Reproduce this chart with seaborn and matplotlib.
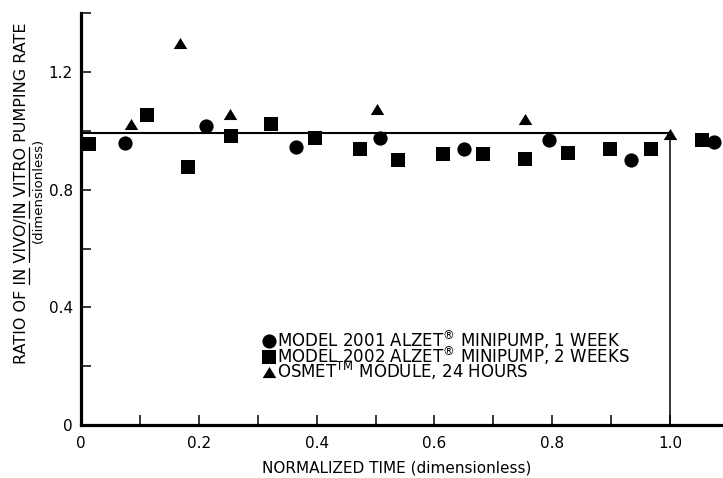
import matplotlib
matplotlib.use("Agg")
import matplotlib.pyplot as plt
from matplotlib.lines import Line2D
from matplotlib.path import Path
import pandas as pd
import seaborn as sns

# Normalized time and in vivo / in vitro pumping-rate ratio per device
alzet_2001_time = [0.075, 0.213, 0.365, 0.507, 0.650, 0.795, 0.933, 1.074]
alzet_2001_ratio = [0.960, 1.017, 0.947, 0.977, 0.938, 0.969, 0.901, 0.964]

alzet_2002_time = [0.014, 0.112, 0.182, 0.255, 0.322, 0.397, 0.473, 0.539,
                   0.614, 0.682, 0.754, 0.827, 0.898, 0.967, 1.054]
alzet_2002_ratio = [0.956, 1.054, 0.879, 0.983, 1.023, 0.977, 0.938, 0.901,
                    0.921, 0.922, 0.904, 0.926, 0.938, 0.938, 0.969]

osmet_time = [0.085, 0.168, 0.253, 0.503, 0.754, 1.000]
osmet_ratio = [1.024, 1.298, 1.057, 1.074, 1.040, 0.989]

series_labels = [
    r"MODEL 2001 ALZET$^{\mathrm{®}}$ MINIPUMP, 1 WEEK",
    r"MODEL 2002 ALZET$^{\mathrm{®}}$ MINIPUMP, 2 WEEKS",
    r"OSMET$^{\mathrm{TM}}$ MODULE, 24 HOURS",
]

reference_ratio = 0.993
end_time = 1.0

x_ticks = [0.0, 0.1, 0.2, 0.3, 0.4, 0.5, 0.6, 0.7, 0.8, 0.9, 1.0]
x_tick_labels = ["0", "", "0.2", "", "0.4", "", "0.6", "", "0.8", "", "1.0"]
y_ticks = [0.0, 0.2, 0.4, 0.6, 0.8, 1.0, 1.2, 1.4]
y_tick_labels = ["0", "", "0.4", "", "0.8", "", "1.2", ""]

df = pd.concat([
    pd.DataFrame({"time": alzet_2001_time, "ratio": alzet_2001_ratio, "device": "2001"}),
    pd.DataFrame({"time": alzet_2002_time, "ratio": alzet_2002_ratio, "device": "2002"}),
    pd.DataFrame({"time": osmet_time, "ratio": osmet_ratio, "device": "osmet"}),
], ignore_index=True)

sns.set_theme(style="white")
plt.rcParams["font.family"] = ["DejaVu Sans"]
plt.rcParams["mathtext.fontset"] = "dejavusans"

W, H = 723, 478
fig = plt.figure(figsize=(W / 100, H / 100), dpi=100)
fig.patch.set_facecolor("white")

# axes box in pixels: x from 81 to the right edge, y-axis 294 px per unit
ax_left, ax_bottom_px, px_per_unit_y = 81, 425, 294.0
ax = fig.add_axes([ax_left / W, (H - ax_bottom_px) / H,
                   (W - ax_left) / W, 1.4 * px_per_unit_y / H])
ax.set_facecolor("white")

# flattened triangle marker (wider than tall)
tri = Path([(0, 0.82), (-1, -0.82), (1, -0.82), (0, 0.82)],
           [Path.MOVETO, Path.LINETO, Path.LINETO, Path.CLOSEPOLY])

marker_styles = {"2001": ("o", 105), "2002": ("s", 100), "osmet": (tri, 95)}
for dev, (mk, size) in marker_styles.items():
    sub = df[df["device"] == dev]
    sns.scatterplot(data=sub, x="time", y="ratio", marker=mk, s=size,
                    color="black", edgecolor="black", linewidth=0,
                    ax=ax, zorder=4, clip_on=False, legend=False)

# reference ratio line and end-of-duration line
ax.plot([0, end_time], [reference_ratio, reference_ratio], color="black",
        lw=1.5, zorder=3)
ax.plot([end_time, end_time], [0, reference_ratio], color="black",
        lw=1.1, zorder=3)

ax.set_xlim(0, (W - ax_left) / 589.0)
ax.set_ylim(0, 1.4)
ax.set_xticks(x_ticks)
ax.set_xticklabels(x_tick_labels)
ax.set_yticks(y_ticks)
ax.set_yticklabels(y_tick_labels)

for side in ("top", "right"):
    ax.spines[side].set_visible(False)
for side in ("left", "bottom"):
    ax.spines[side].set_linewidth(2.3)
    ax.spines[side].set_color("black")

ax.tick_params(axis="x", bottom=True, direction="in", length=7.5, width=1.1,
               pad=8, labelsize=11, colors="black")
ax.tick_params(axis="y", left=True, direction="in", length=7.5, width=1.1,
               pad=6, labelsize=11, colors="black")

ax.set_xlabel("NORMALIZED TIME (dimensionless)", fontsize=11, color="black")
ax.xaxis.set_label_coords((397 - ax_left) / (W - ax_left),
                          -(468 - ax_bottom_px) / 413.0)
ax.xaxis.label.set_va("center")
ax.set_ylabel("")

# legend: one marker per row plus a single multi-line label block
legend_markers = ["o", "s", tri]
legend_sizes = [10.2, 10.0, 9.8]
legend_row_px = [341.0, 356.7, 372.3]
legend_marker_x = (268.5 - ax_left) / (W - ax_left)
for mk, ms, row in zip(legend_markers, legend_sizes, legend_row_px):
    ax.plot([legend_marker_x], [(ax_bottom_px - row) / 413.0], marker=mk,
            markersize=ms, color="black", markeredgewidth=0, linestyle="none",
            transform=ax.transAxes, clip_on=False)

legend_text = fig.text(277 / W, 0.5, "\n".join(series_labels), fontsize=12,
                       color="black", ha="left", va="top")

# rotated y-axis title with underlined words
pieces = [("RATIO OF ", False), ("IN", True), (" ", False), ("VIVO", True),
          ("/", False), ("IN", True), (" ", False), ("VITRO", True),
          (" PUMPING RATE", False)]
title_text = "".join(p for p, _ in pieces)
ylab = fig.text(22 / W, (H - 193) / H, title_text, rotation=90, ha="center",
                va="center", fontsize=11.5, color="black")
fig.text(38 / W, (H - 190) / H, "(dimensionless)", rotation=90, ha="center",
         va="center", fontsize=9.5, color="black")

fig.canvas.draw()
renderer = fig.canvas.get_renderer()

# legend line pitch: baseline step = previous descent + ascent * linespacing
lprop = legend_text.get_fontproperties()
_, lp_h, lp_d = renderer.get_text_width_height_descent("lp", lprop, ismath=False)
ascents, descents = [], []
for lab in series_labels:
    _, h, d = renderer.get_text_width_height_descent(lab, lprop, ismath=True)
    ascents.append(max(h, lp_h) - max(d, lp_d))
    descents.append(max(d, lp_d))
pitch = legend_row_px[1] - legend_row_px[0]
legend_text.set_linespacing((pitch - max(descents[0], descents[1]))
                            / max(ascents[1], ascents[2]))
cap_half = 0.729 * lprop.get_size_in_points() * 100 / 72 / 2
first_baseline_px = legend_row_px[0] + cap_half
legend_text.set_y((H - first_baseline_px + ascents[0]) / H)

# underline segments along the baseline of the rotated title
prop = ylab.get_fontproperties()
bb = ylab.get_window_extent(renderer)
_, _, t_d = renderer.get_text_width_height_descent("lp", prop, ismath=False)
ux = bb.x1 - t_d + 2.0
prefix = ""
for piece, underlined in pieces:
    prefix += piece
    if underlined:
        end_w = renderer.get_text_width_height_descent(prefix, prop, ismath=False)[0]
        word_w = renderer.get_text_width_height_descent(piece, prop, ismath=False)[0]
        y_start = bb.y0 + end_w - word_w
        y_end = bb.y0 + end_w
        fig.add_artist(Line2D([ux / W, ux / W], [y_start / H, y_end / H],
                              transform=fig.transFigure, color="black", lw=0.9))

fig.savefig("out.png", dpi=100, facecolor="white")
